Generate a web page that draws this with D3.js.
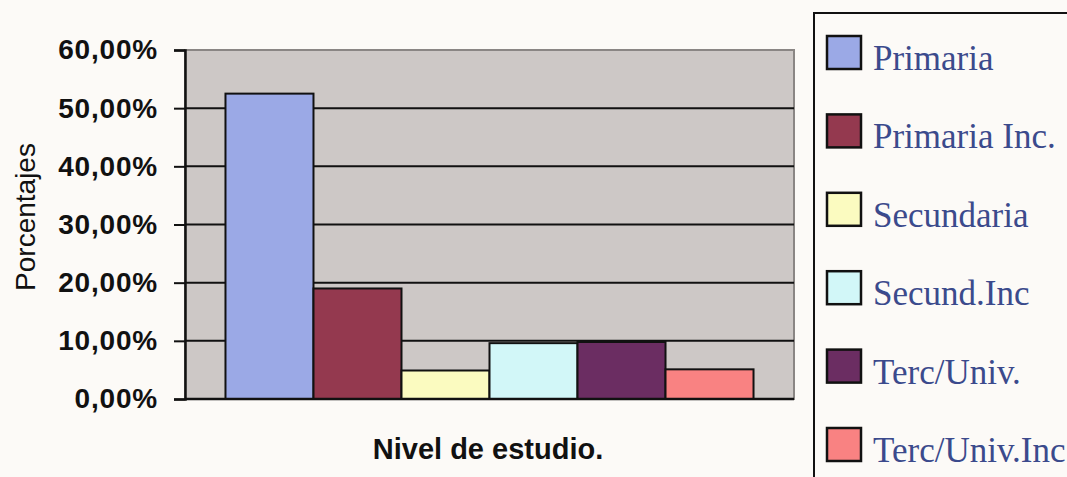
<!DOCTYPE html>
<html>
<head>
<meta charset="utf-8">
<script src="https://cdn.jsdelivr.net/npm/d3@7"></script>
<style>
  body { margin: 0; background: #fcfaf7; }
  svg { display: block; }
</style>
</head>
<body>
<svg id="chart" width="1067" height="477"></svg>
<script>
// data
var series = ["Primaria", "Primaria Inc.", "Secundaria", "Secund.Inc", "Terc/Univ.", "Terc/Univ.Inc"];
var values = [0.525, 0.190, 0.049, 0.096, 0.098, 0.051];
var colors = ["#9ba9e6", "#94394f", "#fbfbc0", "#d2f7f8", "#6b2d62", "#f98282"];
var yTicks = [0, 0.1, 0.2, 0.3, 0.4, 0.5, 0.6];

var svg = d3.select("#chart"),
    plotLeft = 185, plotRight = 794, plotTop = 50, plotBottom = 399;

var locale = d3.formatLocale({decimal: ",", thousands: ".", grouping: [3], currency: ["", "€"], percent: "%"});
var fmt = locale.format(".2%");

var y = d3.scaleLinear().domain([0, 0.6]).range([plotBottom, plotTop]);
var x = d3.scaleBand().domain(series).range([plotLeft, plotRight]).paddingInner(0).paddingOuter(0.46);

// plot area
svg.append("rect")
    .attr("x", plotLeft).attr("y", plotTop)
    .attr("width", plotRight - plotLeft).attr("height", plotBottom - plotTop)
    .attr("fill", "#cdc8c6")
    .attr("stroke", "#8a8684")
    .attr("stroke-width", 2);

// gridlines
svg.append("g")
  .selectAll("line")
  .data(yTicks.slice(1, -1))
  .join("line")
    .attr("x1", plotLeft).attr("x2", plotRight)
    .attr("y1", function(d) { return y(d); })
    .attr("y2", function(d) { return y(d); })
    .attr("stroke", "#111")
    .attr("stroke-width", 2);

// bars
svg.append("g")
    .attr("stroke", "#111")
    .attr("stroke-width", 2)
  .selectAll("rect")
  .data(series)
  .join("rect")
    .attr("x", function(d) { return x(d); })
    .attr("y", function(d, i) { return y(values[i]); })
    .attr("width", x.bandwidth())
    .attr("height", function(d, i) { return plotBottom - y(values[i]); })
    .attr("fill", function(d, i) { return colors[i]; });

// y axis
var yAxis = svg.append("g")
    .attr("transform", "translate(" + plotLeft + ",0)")
    .call(d3.axisLeft(y).tickValues(yTicks).tickFormat(fmt).tickSize(11).tickPadding(16));
yAxis.select(".domain").attr("stroke", "#111").attr("stroke-width", 2.5);
yAxis.selectAll(".tick line").attr("stroke", "#111").attr("stroke-width", 2);
yAxis.selectAll("text")
    .attr("fill", "#111")
    .style("font-family", "'Liberation Sans', Arial, sans-serif")
    .style("font-weight", "bold")
    .style("font-size", "28px")
    .style("letter-spacing", "0.8px");

// bottom axis line
svg.append("line")
    .attr("x1", plotLeft).attr("x2", plotRight)
    .attr("y1", plotBottom).attr("y2", plotBottom)
    .attr("stroke", "#111").attr("stroke-width", 2.5);

// axis titles
svg.append("text")
    .attr("transform", "translate(35,217) rotate(-90)")
    .attr("text-anchor", "middle")
    .style("font-family", "'Liberation Sans', Arial, sans-serif")
    .style("font-size", "28px")
    .attr("fill", "#111")
    .text("Porcentajes");

svg.append("text")
    .attr("x", 488).attr("y", 459)
    .attr("text-anchor", "middle")
    .style("font-family", "'Liberation Sans', Arial, sans-serif")
    .style("font-weight", "bold")
    .style("font-size", "29px")
    .attr("fill", "#111")
    .text("Nivel de estudio.");

// legend
svg.append("rect")
    .attr("x", 814).attr("y", 13)
    .attr("width", 300).attr("height", 500)
    .attr("fill", "none")
    .attr("stroke", "#111")
    .attr("stroke-width", 2);

var legend = svg.append("g")
  .selectAll("g")
  .data(series)
  .join("g")
    .attr("transform", function(d, i) { return "translate(827," + (36 + i * 78.4) + ")"; });

legend.append("rect")
    .attr("width", 34).attr("height", 33)
    .attr("fill", function(d, i) { return colors[i]; })
    .attr("stroke", "#111")
    .attr("stroke-width", 2.5);

legend.append("text")
    .attr("x", 46).attr("y", 34)
    .style("font-family", "'Liberation Serif', 'Times New Roman', serif")
    .style("font-size", "35px")
    .attr("fill", "#3b4a8c")
    .text(function(d) { return d; });
</script>
</body>
</html>
